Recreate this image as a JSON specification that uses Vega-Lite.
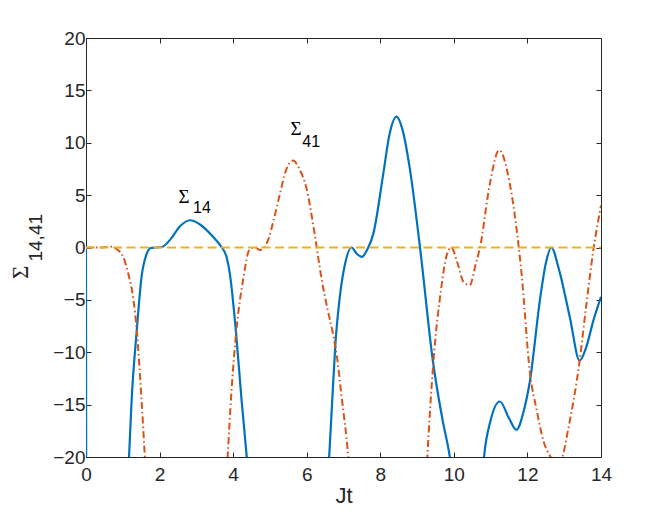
{
  "$schema": "https://vega.github.io/schema/vega-lite/v6.json",
  "width": 515,
  "height": 419,
  "autosize": {"type": "none"},
  "padding": {"left": 86, "top": 38, "right": 63, "bottom": 57},
  "background": "white",
  "config": {
    "view": {"stroke": null},
    "axis": {
      "labelFont": "Liberation Sans",
      "titleFont": "Liberation Sans",
      "labelFontSize": 19,
      "labelFlush": false,
      "labelColor": "#262626",
      "titleColor": "#262626",
      "domainColor": "#262626",
      "tickColor": "#262626",
      "grid": false,
      "domainWidth": 1,
      "tickWidth": 1
    }
  },
  "datasets": {
    "curves": [
      {"s": "b", "t": 0, "v": 0},
      {"s": "b", "t": 0.005, "v": -25},
      {"s": "b", "t": 0.5, "v": -60},
      {"s": "b", "t": 1.0, "v": -30},
      {"s": "b", "t": 1.17, "v": -20},
      {"s": "b", "t": 1.24, "v": -14.6},
      {"s": "b", "t": 1.38, "v": -7.9},
      {"s": "b", "t": 1.51, "v": -2.8},
      {"s": "b", "t": 1.65, "v": -0.6},
      {"s": "b", "t": 1.76, "v": -0.05},
      {"s": "b", "t": 1.9, "v": 0},
      {"s": "b", "t": 2.06, "v": 0.05},
      {"s": "b", "t": 2.3, "v": 0.8},
      {"s": "b", "t": 2.55, "v": 2.0},
      {"s": "b", "t": 2.83, "v": 2.6},
      {"s": "b", "t": 3.1, "v": 2.2},
      {"s": "b", "t": 3.46, "v": 1.0},
      {"s": "b", "t": 3.65, "v": 0.2},
      {"s": "b", "t": 3.82, "v": -0.9},
      {"s": "b", "t": 3.91, "v": -2.5},
      {"s": "b", "t": 4.08, "v": -8.2},
      {"s": "b", "t": 4.23, "v": -14.6},
      {"s": "b", "t": 4.37, "v": -20},
      {"s": "b", "t": 4.5, "v": -26},
      {"s": "b", "t": 5.5, "v": -60},
      {"s": "b", "t": 6.5, "v": -26},
      {"s": "b", "t": 6.61, "v": -20},
      {"s": "b", "t": 6.7, "v": -14.2},
      {"s": "b", "t": 6.78, "v": -9.2},
      {"s": "b", "t": 6.9, "v": -4.7},
      {"s": "b", "t": 7.04, "v": -1.6},
      {"s": "b", "t": 7.22, "v": 0},
      {"s": "b", "t": 7.36, "v": -0.6},
      {"s": "b", "t": 7.5, "v": -0.9},
      {"s": "b", "t": 7.66, "v": -0.1},
      {"s": "b", "t": 7.81, "v": 1.3},
      {"s": "b", "t": 8.08, "v": 7.0},
      {"s": "b", "t": 8.25, "v": 10.8},
      {"s": "b", "t": 8.44, "v": 12.5},
      {"s": "b", "t": 8.6, "v": 11.3},
      {"s": "b", "t": 8.8, "v": 7.6},
      {"s": "b", "t": 9.08, "v": 0},
      {"s": "b", "t": 9.44, "v": -11.1},
      {"s": "b", "t": 9.7, "v": -16.6},
      {"s": "b", "t": 9.89, "v": -20},
      {"s": "b", "t": 10.0, "v": -23},
      {"s": "b", "t": 10.4, "v": -40},
      {"s": "b", "t": 10.75, "v": -23},
      {"s": "b", "t": 10.82, "v": -20},
      {"s": "b", "t": 11.0, "v": -16.5},
      {"s": "b", "t": 11.25, "v": -14.7},
      {"s": "b", "t": 11.5, "v": -16.3},
      {"s": "b", "t": 11.7, "v": -17.4},
      {"s": "b", "t": 11.9, "v": -15.6},
      {"s": "b", "t": 12.07, "v": -12.7},
      {"s": "b", "t": 12.34, "v": -5},
      {"s": "b", "t": 12.5, "v": -1.5},
      {"s": "b", "t": 12.65, "v": 0},
      {"s": "b", "t": 12.85, "v": -2},
      {"s": "b", "t": 13.15, "v": -6.6},
      {"s": "b", "t": 13.42, "v": -10.8},
      {"s": "b", "t": 13.6, "v": -9.5},
      {"s": "b", "t": 13.79, "v": -7.0},
      {"s": "b", "t": 14.0, "v": -4.7},
      {"s": "o", "t": 0, "v": 0},
      {"s": "o", "t": 0.4, "v": 0},
      {"s": "o", "t": 0.65, "v": 0.1},
      {"s": "o", "t": 0.85, "v": -0.2},
      {"s": "o", "t": 1.01, "v": -0.9},
      {"s": "o", "t": 1.15, "v": -2.5},
      {"s": "o", "t": 1.29, "v": -5},
      {"s": "o", "t": 1.38, "v": -7.9},
      {"s": "o", "t": 1.51, "v": -14.6},
      {"s": "o", "t": 1.6, "v": -20},
      {"s": "o", "t": 1.7, "v": -26},
      {"s": "o", "t": 2.7, "v": -60},
      {"s": "o", "t": 3.75, "v": -26},
      {"s": "o", "t": 3.85, "v": -20},
      {"s": "o", "t": 3.95, "v": -14},
      {"s": "o", "t": 4.08, "v": -8.2},
      {"s": "o", "t": 4.27, "v": -3.1},
      {"s": "o", "t": 4.46, "v": -0.1},
      {"s": "o", "t": 4.6, "v": 0},
      {"s": "o", "t": 4.73, "v": -0.25},
      {"s": "o", "t": 4.95, "v": 0.7},
      {"s": "o", "t": 5.1, "v": 2.6},
      {"s": "o", "t": 5.27, "v": 5.1},
      {"s": "o", "t": 5.45, "v": 7.5},
      {"s": "o", "t": 5.63, "v": 8.3},
      {"s": "o", "t": 5.8, "v": 7.5},
      {"s": "o", "t": 5.99, "v": 5.7},
      {"s": "o", "t": 6.22, "v": 1.2},
      {"s": "o", "t": 6.4, "v": -2.9},
      {"s": "o", "t": 6.56, "v": -5.8},
      {"s": "o", "t": 6.7, "v": -8.0},
      {"s": "o", "t": 6.82, "v": -10.4},
      {"s": "o", "t": 6.95, "v": -14.3},
      {"s": "o", "t": 7.13, "v": -20},
      {"s": "o", "t": 7.25, "v": -26},
      {"s": "o", "t": 8.2, "v": -60},
      {"s": "o", "t": 9.2, "v": -26},
      {"s": "o", "t": 9.28, "v": -20},
      {"s": "o", "t": 9.44, "v": -11.1},
      {"s": "o", "t": 9.66, "v": -3.8},
      {"s": "o", "t": 9.8, "v": -0.8},
      {"s": "o", "t": 9.93, "v": 0},
      {"s": "o", "t": 10.1, "v": -1.5},
      {"s": "o", "t": 10.25, "v": -3.2},
      {"s": "o", "t": 10.43, "v": -3.6},
      {"s": "o", "t": 10.6, "v": -1.5},
      {"s": "o", "t": 10.71, "v": 0},
      {"s": "o", "t": 10.98, "v": 6.1},
      {"s": "o", "t": 11.23, "v": 9.3},
      {"s": "o", "t": 11.52, "v": 6.1},
      {"s": "o", "t": 11.84, "v": -2.5},
      {"s": "o", "t": 12.07, "v": -12},
      {"s": "o", "t": 12.25, "v": -15.5},
      {"s": "o", "t": 12.43, "v": -18.4},
      {"s": "o", "t": 12.63, "v": -20},
      {"s": "o", "t": 12.8, "v": -20.8},
      {"s": "o", "t": 12.95, "v": -20},
      {"s": "o", "t": 13.1, "v": -17.5},
      {"s": "o", "t": 13.42, "v": -10.8},
      {"s": "o", "t": 13.6, "v": -5.5},
      {"s": "o", "t": 13.79, "v": -0.3},
      {"s": "o", "t": 14.0, "v": 4.0}
    ],
    "zero": [{"t": 0, "v": 0}, {"t": 14, "v": 0}]
  },
  "layer": [
    {
      "data": {"name": "curves"},
      "transform": [{"filter": "datum.s == 'b'"}],
      "mark": {"type": "line", "clip": true, "color": "#0072BD", "strokeWidth": 2.2, "interpolate": "monotone"},
      "encoding": {
        "x": {"field": "t", "type": "quantitative", "scale": {"domain": [0, 14], "nice": false, "zero": false},
              "axis": {"orient": "bottom", "values": [0, 2, 4, 6, 8, 10, 12, 14], "tickSize": -5, "labelPadding": 13, "title": "Jt", "titleFontSize": 22, "titleFontWeight": "normal", "titlePadding": 1}},
        "y": {"field": "v", "type": "quantitative", "scale": {"domain": [-20, 20], "nice": false},
              "axis": {"orient": "left", "values": [-20, -15, -10, -5, 0, 5, 10, 15, 20], "tickSize": -5, "labelPadding": 6, "title": null}}
      }
    },
    {
      "data": {"name": "curves"},
      "transform": [{"filter": "datum.s == 'o'"}],
      "mark": {"type": "line", "clip": true, "color": "#D95319", "strokeWidth": 2, "strokeDash": [7, 3, 1.5, 3], "interpolate": "monotone"},
      "encoding": {
        "x": {"field": "t", "type": "quantitative", "axis": null},
        "y": {"field": "v", "type": "quantitative", "axis": null}
      }
    },
    {
      "data": {"name": "zero"},
      "mark": {"type": "line", "clip": true, "color": "#EDB120", "strokeWidth": 2, "strokeDash": [9, 4.5]},
      "encoding": {
        "x": {"field": "t", "type": "quantitative",
              "axis": {"orient": "top", "values": [0, 2, 4, 6, 8, 10, 12, 14], "tickSize": -5, "labels": false, "title": null}},
        "y": {"field": "v", "type": "quantitative",
              "axis": {"orient": "right", "values": [-20, -15, -10, -5, 0, 5, 10, 15, 20], "tickSize": -5, "labels": false, "title": null}}
      }
    },
    {
      "data": {"values": [{"t": 2.663, "v": 4.79, "txt": "Σ"}, {"t": 5.707, "v": 11.3, "txt": "Σ"}]},
      "mark": {"type": "text", "font": "Liberation Serif", "fontSize": 19, "color": "#000000", "align": "center", "baseline": "middle"},
      "encoding": {
        "x": {"field": "t", "type": "quantitative", "axis": null},
        "y": {"field": "v", "type": "quantitative", "axis": null},
        "text": {"field": "txt"}
      }
    },
    {
      "data": {"values": [{"t": 3.152, "v": 3.74, "txt": "14"}, {"t": 6.12, "v": 10.11, "txt": "41"}]},
      "mark": {"type": "text", "font": "Liberation Sans", "fontSize": 16, "color": "#000000", "align": "center", "baseline": "middle"},
      "encoding": {
        "x": {"field": "t", "type": "quantitative", "axis": null},
        "y": {"field": "v", "type": "quantitative", "axis": null},
        "text": {"field": "txt"}
      }
    },
    {
      "data": {"values": [{"t": -1.766, "v": -2.37, "txt": "Σ"}]},
      "mark": {"type": "text", "font": "Liberation Serif", "fontSize": 23, "color": "#262626", "align": "center", "baseline": "middle", "angle": 270},
      "encoding": {
        "x": {"field": "t", "type": "quantitative", "axis": null},
        "y": {"field": "v", "type": "quantitative", "axis": null},
        "text": {"field": "txt"}
      }
    },
    {
      "data": {"values": [{"t": -1.359, "v": 0.93, "txt": "14,41"}]},
      "mark": {"type": "text", "font": "Liberation Sans", "fontSize": 19, "color": "#262626", "align": "center", "baseline": "middle", "angle": 270},
      "encoding": {
        "x": {"field": "t", "type": "quantitative", "axis": null},
        "y": {"field": "v", "type": "quantitative", "axis": null},
        "text": {"field": "txt"}
      }
    }
  ],
  "resolve": {"axis": {"x": "independent", "y": "independent"}}
}
